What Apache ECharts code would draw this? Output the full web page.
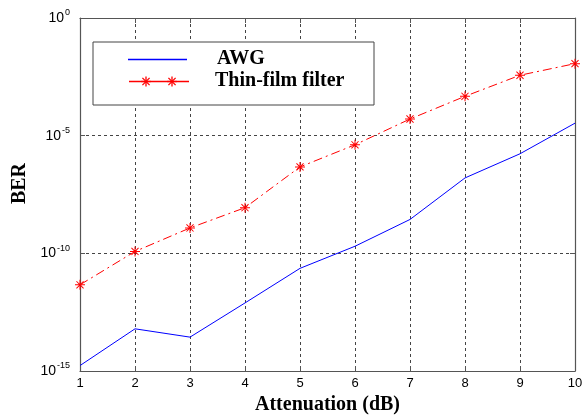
<!DOCTYPE html>
<html>
<head>
<meta charset="utf-8">
<script src="https://cdn.jsdelivr.net/npm/echarts@6/dist/echarts.min.js"></script>
<style>
html,body{margin:0;padding:0;background:#fff;}
#chart{width:585px;height:416px;}
</style>
</head>
<body>
<div id="chart"></div>
<script>
// Data
const attenuation = [1, 2, 3, 4, 5, 6, 7, 8, 9, 10];
const awgBER = [1.7e-15, 6.2e-14, 2.75e-14, 7.8e-13, 2.3e-11, 2.0e-10, 2.75e-9, 1.6e-7, 1.7e-6, 3.4e-5];
const thinFilmBER = [4.6e-12, 1.2e-10, 1.2e-9, 8.7e-9, 4.7e-7, 4.1e-6, 5.1e-5, 4.7e-4, 3.7e-3, 1.15e-2];
const seriesNames = ['AWG', 'Thin-film filter'];
const xTitle = 'Attenuation (dB)';
const yTitle = 'BER';
const yMin = 1e-15, yMax = 1;

const starPath = 'path://M9 0h2v20h-2z M0 9h20v2h-20z M2.2 3.6L3.6 2.2L17.8 16.4L16.4 17.8z M16.4 2.2L17.8 3.6L3.6 17.8L2.2 16.4z';

const chart = echarts.init(document.getElementById('chart'), null, {renderer: 'canvas'});

const axisColor = '#555';
const gridLine = {show: true, lineStyle: {color: '#444', type: [3, 3], width: 1}};

function supLabel(v) {
  const e = Math.round(Math.log10(v));
  return '10{sup|' + e + '}';
}

function legendStar(cx, cy) {
  const r = 5, d = 3.6;
  const seg = (x1, y1, x2, y2) => ({type: 'line', shape: {x1: x1, y1: y1, x2: x2, y2: y2},
    style: {stroke: '#ff0000', lineWidth: 1.3}, z: 12});
  return [
    seg(cx - r, cy, cx + r, cy),
    seg(cx, cy - r, cx, cy + r),
    seg(cx - d, cy - d, cx + d, cy + d),
    seg(cx - d, cy + d, cx + d, cy - d)
  ];
}

const option = {
  animation: false,
  backgroundColor: '#fff',
  grid: {left: 80, right: 10, top: 18, bottom: 45, outerBoundsMode: 'none', containLabel: false},
  xAxis: [{
    type: 'value', min: 1, max: 10, interval: 1,
    name: xTitle, nameLocation: 'middle', nameGap: 18,
    nameTextStyle: {fontFamily: 'Liberation Serif', fontWeight: 'bold', fontSize: 20, color: '#000', verticalAlign: 'top'},
    axisLine: {show: true, onZero: false, lineStyle: {color: axisColor, width: 1.2}},
    axisTick: {show: true, inside: true, length: 5, lineStyle: {color: axisColor}},
    axisLabel: {color: '#000', fontFamily: 'Liberation Sans', fontSize: 13, margin: 6},
    splitLine: gridLine
  }, {
    type: 'value', min: 1, max: 10, interval: 1, position: 'top',
    axisLine: {show: true, onZero: false, lineStyle: {color: axisColor, width: 1.2}},
    axisTick: {show: true, inside: true, length: 5, lineStyle: {color: axisColor}},
    axisLabel: {show: false},
    splitLine: {show: false}
  }],
  yAxis: [{
    type: 'log', logBase: 10, min: yMin, max: yMax, interval: 5,
    name: yTitle, nameLocation: 'middle', nameGap: 48,
    nameTextStyle: {fontFamily: 'Liberation Serif', fontWeight: 'bold', fontSize: 20, color: '#000', padding: [0, 0, 0, 22]},
    axisLine: {show: true, onZero: false, lineStyle: {color: axisColor, width: 1.2}},
    axisTick: {show: true, inside: true, length: 5, lineStyle: {color: axisColor}},
    minorTick: {show: false},
    axisLabel: {
      color: '#000', fontFamily: 'Liberation Sans', fontSize: 14, margin: 10,
      formatter: supLabel,
      rich: {sup: {fontSize: 9, fontFamily: 'Liberation Sans', color: '#000', verticalAlign: 'top', padding: [0, 0, 10, 1]}}
    },
    splitLine: gridLine
  }, {
    type: 'log', logBase: 10, min: yMin, max: yMax, interval: 5, position: 'right',
    axisLine: {show: true, onZero: false, lineStyle: {color: axisColor, width: 1.2}},
    axisTick: {show: true, inside: true, length: 5, lineStyle: {color: axisColor}},
    axisLabel: {show: false},
    splitLine: {show: false}
  }],
  series: [{
    name: seriesNames[0], type: 'line',
    data: attenuation.map((x, i) => [x, awgBER[i]]),
    symbol: 'none',
    lineStyle: {color: '#0000ff', width: 1},
    itemStyle: {color: '#0000ff'},
    z: 3
  }, {
    name: seriesNames[1], type: 'line',
    data: attenuation.map((x, i) => [x, thinFilmBER[i]]),
    symbol: starPath, symbolSize: 10,
    lineStyle: {color: '#ff0000', width: 1, type: [9, 4, 2, 4]},
    itemStyle: {color: '#ff0000'},
    z: 4
  }],
  graphic: [
    {type: 'rect', shape: {x: 93, y: 42, width: 281, height: 63},
     style: {fill: '#fff', stroke: '#444', lineWidth: 1}, z: 10},
    {type: 'line', shape: {x1: 128, y1: 59.5, x2: 187, y2: 59.5},
     style: {stroke: '#0000ff', lineWidth: 1.4}, z: 11},
    {type: 'line', shape: {x1: 129, y1: 81.5, x2: 189, y2: 81.5},
     style: {stroke: '#ff0000', lineWidth: 1.5}, z: 11}
  ].concat(legendStar(146, 81.5), legendStar(172, 81.5), [
    {type: 'text', x: 217, y: 49, z: 11,
     style: {text: seriesNames[0], fill: '#000', font: 'bold 20px "Liberation Serif"'}},
    {type: 'text', x: 215, y: 71, z: 11,
     style: {text: seriesNames[1], fill: '#000', font: 'bold 20px "Liberation Serif"'}}
  ])
};
chart.setOption(option);
</script>
</body>
</html>
